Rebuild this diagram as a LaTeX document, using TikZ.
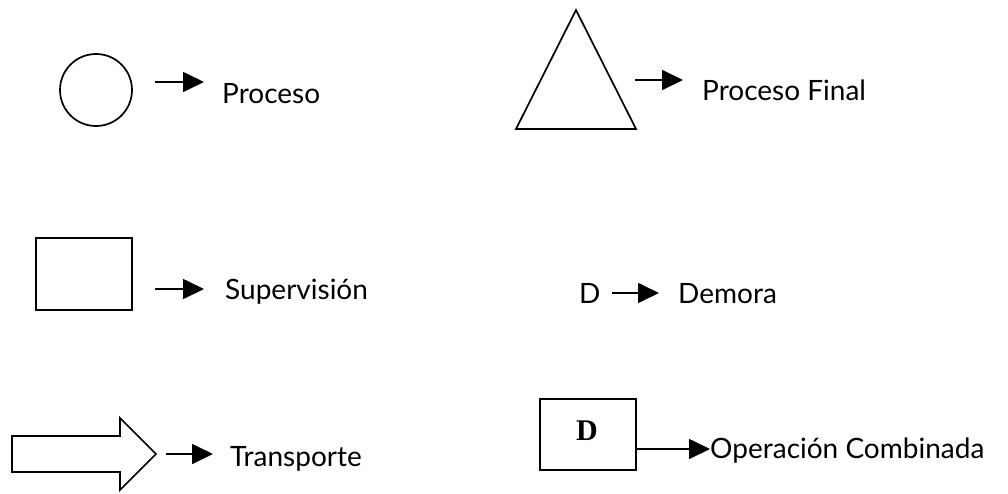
\documentclass[tikz,border=0pt]{standalone}
\usepackage{fontspec}
\setmainfont{Lato}
\newfontfamily\serifD{Liberation Serif}
\usetikzlibrary{arrows.meta}
\begin{document}
\begin{tikzpicture}[x=1pt,y=-1pt,
  shapeline/.style={draw=black,line width=1.7pt},
  arr/.style={line width=1.7pt,-{Triangle[length=21pt,width=20pt]}},
  lbl/.style={anchor=base west,inner sep=0pt,font=\fontsize{28}{33}\selectfont}]
\useasboundingbox (0,0) rectangle (1008,493);

% Proceso
\node[shapeline,circle,minimum size=72pt,inner sep=0pt] (circ) at (96,90) {};
\node[lbl] (tproc) at (222,103) {Proceso};
\coordinate (a1s) at (155,82);
\coordinate (a1e) at (204,82);
\draw[arr] (a1s) -- (a1e);

% Proceso Final
\draw[shapeline,line join=miter] (576,10) -- (636,129) -- (516,129) -- cycle;
\node[lbl] (tfin) at (702,100) {Proceso Final};
\coordinate (a2s) at (635,80);
\coordinate (a2e) at (683,80);
\draw[arr] (a2s) -- (a2e);

% Supervision
\node[shapeline,rectangle,minimum width=96pt,minimum height=72pt,inner sep=0pt] (rect) at (84,274) {};
\node[lbl] (tsup) at (225,299) {Supervisión};
\coordinate (a3s) at (155,289);
\coordinate (a3e) at (204,289);
\draw[arr] (a3s) -- (a3e);

% Demora
\node[lbl] (dsym) at (579,303) {D};
\node[lbl] (tdem) at (678,303) {Demora};
\coordinate (a4s) at (612,293);
\coordinate (a4e) at (659,293);
\draw[arr] (a4s) -- (a4e);

% Transporte
\draw[shapeline,line join=miter] (12,436) -- (120,436) -- (120,418) -- (156,454)
  -- (120,490) -- (120,472) -- (12,472) -- cycle;
\node[lbl] (ttra) at (230,466) {Transporte};
\coordinate (a5s) at (166,454);
\coordinate (a5e) at (213,454);
\draw[arr] (a5s) -- (a5e);

% Operacion Combinada
\node[shapeline,rectangle,minimum width=96pt,minimum height=71pt,inner sep=0pt] (box) at (588,434.5) {};
\node[font=\serifD\bfseries\fontsize{30}{34}\selectfont,inner sep=0pt] (boxd) at (587,431) {D};
\node[lbl] (tcomb) at (710,458) {Operación Combinada};
\coordinate (a6e) at (710,449);
\draw[arr] (box.east |- a6e) -- (a6e);
\end{tikzpicture}
\end{document}
